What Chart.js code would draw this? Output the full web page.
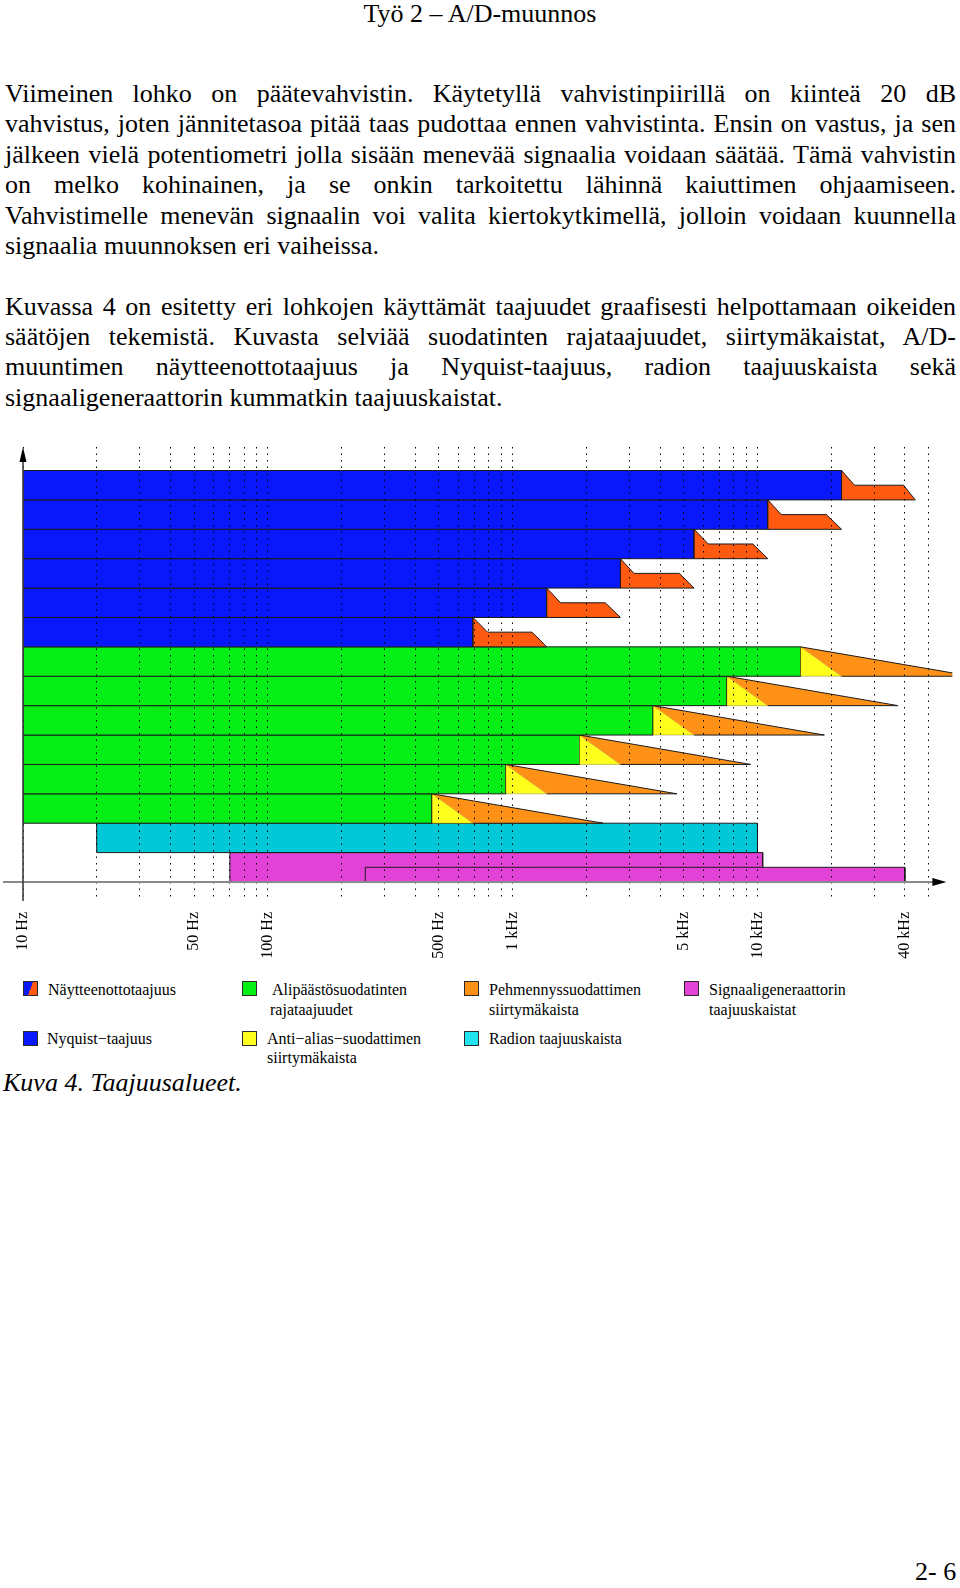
<!DOCTYPE html>
<html>
<head>
<meta charset="utf-8">
<script src="https://cdn.jsdelivr.net/npm/chart.js@4.4.1/dist/chart.umd.min.js"></script>
<style>
html,body{margin:0;padding:0;background:#fff;}
body{width:960px;height:1588px;position:relative;overflow:hidden;font-family:'Liberation Serif','Times New Roman',serif;color:#000;}
.hdr{position:absolute;left:0;width:960px;top:-1px;text-align:center;font-size:26px;line-height:30.4px;}
.para{position:absolute;left:5px;width:951px;font-size:26px;line-height:30.4px;}
.para div{text-align:justify;text-align-last:justify;}
.para div.last{text-align-last:left;}
#chartBox{position:absolute;left:0;top:440px;width:960px;height:525px;}
.ico{position:absolute;width:13px;height:13px;border:1px solid #2a2a2a;}
.lt{position:absolute;font-size:16px;line-height:20px;white-space:nowrap;}
.cap{position:absolute;left:3px;top:1068px;font-size:26px;line-height:30.4px;font-style:italic;}
.foot{position:absolute;left:915px;top:1557px;font-size:26px;line-height:30.4px;}
</style>
</head>
<body>
<div class="hdr">Työ 2 – A/D-muunnos</div>

<div class="para" style="top:79px">
<div>Viimeinen lohko on päätevahvistin. Käytetyllä vahvistinpiirillä on kiinteä 20 dB</div>
<div>vahvistus, joten jännitetasoa pitää taas pudottaa ennen vahvistinta. Ensin on vastus, ja sen</div>
<div>jälkeen vielä potentiometri jolla sisään menevää signaalia voidaan säätää. Tämä vahvistin</div>
<div>on melko kohinainen, ja se onkin tarkoitettu lähinnä kaiuttimen ohjaamiseen.</div>
<div>Vahvistimelle menevän signaalin voi valita kiertokytkimellä, jolloin voidaan kuunnella</div>
<div class="last">signaalia muunnoksen eri vaiheissa.</div>
</div>

<div class="para" style="top:291.6px">
<div>Kuvassa 4 on esitetty eri lohkojen käyttämät taajuudet graafisesti helpottamaan oikeiden</div>
<div>säätöjen tekemistä. Kuvasta selviää suodatinten rajataajuudet, siirtymäkaistat, A/D-</div>
<div>muuntimen näytteenottotaajuus ja Nyquist-taajuus, radion taajuuskaista sekä</div>
<div class="last">signaaligeneraattorin kummatkin taajuuskaistat.</div>
</div>

<div id="chartBox"><canvas id="c" width="960" height="525"></canvas></div>

<!-- legend -->
<span class="ico" style="left:23px;top:981px;background:linear-gradient(110deg,#0818fa 50%,#ff5a10 50%)"></span>
<div class="lt" style="left:48px;top:980px">Näytteenottotaajuus</div>
<span class="ico" style="left:242px;top:981px;background:#05ee15"></span>
<div class="lt" style="left:272px;top:980px">Alipäästösuodatinten</div>
<div class="lt" style="left:270px;top:1000px">rajataajuudet</div>
<span class="ico" style="left:464px;top:981px;background:#ff9216"></span>
<div class="lt" style="left:489px;top:980px">Pehmennyssuodattimen</div>
<div class="lt" style="left:489px;top:1000px">siirtymäkaista</div>
<span class="ico" style="left:684px;top:981px;background:#e243d6"></span>
<div class="lt" style="left:709px;top:980px">Signaaligeneraattorin</div>
<div class="lt" style="left:709px;top:1000px">taajuuskaistat</div>
<span class="ico" style="left:23px;top:1031px;background:#0818fa"></span>
<div class="lt" style="left:47px;top:1029px">Nyquist−taajuus</div>
<span class="ico" style="left:242px;top:1031px;background:#ffff1e"></span>
<div class="lt" style="left:267px;top:1029px">Anti−alias−suodattimen</div>
<div class="lt" style="left:267px;top:1048px">siirtymäkaista</div>
<span class="ico" style="left:464px;top:1031px;background:#22e4ee"></span>
<div class="lt" style="left:489px;top:1029px">Radion taajuuskaista</div>

<div class="cap">Kuva 4. Taajuusalueet.</div>
<div class="foot">2- 6</div>

<script>
// ---------------- data (frequencies in Hz) ----------------
const X_MIN = 10;
const X_MAX = 62500;

// dotted grid lines
const GRID_FREQS = [10, 20, 30, 40, 50, 60, 70, 80, 90,
  100, 200, 300, 400, 500, 600, 700, 800, 900,
  1000, 2000, 3000, 4000, 5000, 6000, 7000, 8000, 9000,
  10000, 20000, 30000, 40000, 50000];

// labelled ticks
const TICK_VALUES = [10, 50, 100, 500, 1000, 5000, 10000, 40000];
const TICK_TEXT = ['10 Hz', '50 Hz', '100 Hz', '500 Hz', '1 kHz', '5 kHz', '10 kHz', '40 kHz'];

// sampling rows (top to bottom)
const NYQUIST = [22050, 11025, 5512.5, 2756.25, 1378.125, 689.06];
const SAMPLE_RATE = [44100, 22050, 11025, 5512.5, 2756.25, 1378.125];
const SAMPLE_SHOULDER_LOW = [24900, 12500, 6290, 3130, 1570, 790];
const SAMPLE_SHOULDER_HIGH = [39500, 19100, 9570, 4800, 2390, 1200];

// low-pass filter rows (top to bottom)
const CUTOFF = [15000, 7500, 3750, 1875, 937.5, 468.75];
const ANTIALIAS_END = [22050, 11025, 5512.5, 2756.25, 1378.125, 689.06];
const SMOOTHING_END = [75000, 37500, 18750, 9375, 4690, 2340];

// radio band and signal generator bands
const RADIO_BAND = [20, 10000];
const SIGGEN_BANDS = [[70, 10500], [250, 40000]];

// ---------------- styles ----------------
const C_BLUE = '#0818fa', C_RED = '#ff5a10', C_GREEN = '#05ee15', C_YELLOW = '#ffff1e',
      C_ORANGE = '#ff9216', C_CYAN = '#00c8d6', C_MAGENTA = '#e243d6', EDGE = '#1c1c1c';
const FONT = "'Liberation Serif', 'Times New Roman', serif";

function poly(points, color, extra) {
  return Object.assign({
    data: points.map(p => ({x: p[0], y: p[1]})),
    backgroundColor: color,
    borderColor: EDGE,
    borderWidth: 1,
    fill: 'shape',
    pointRadius: 0,
    pointHoverRadius: 0,
    tension: 0
  }, extra || {});
}
function rect(x0, x1, y0, y1, color) {
  return poly([[x0, y0], [x0, y1], [x1, y1], [x1, y0], [x0, y0]], color);
}

// paint order: first = bottom-most
const layers = [];
layers.push(rect(SIGGEN_BANDS[0][0], SIGGEN_BANDS[0][1], 0, 1, C_MAGENTA));
layers.push(rect(SIGGEN_BANDS[1][0], SIGGEN_BANDS[1][1], 0, 0.5, C_MAGENTA));
layers.push(rect(RADIO_BAND[0], RADIO_BAND[1], 1, 2, C_CYAN));
for (let i = CUTOFF.length - 1; i >= 0; i--) {
  const b = 7 - i;
  layers.push(rect(X_MIN, CUTOFF[i], b, b + 1, C_GREEN));
  layers.push(poly([[CUTOFF[i], b + 1], [ANTIALIAS_END[i], b], [CUTOFF[i], b], [CUTOFF[i], b + 1]], C_YELLOW,
    {borderWidth: 0.6, borderColor: 'rgba(60,60,0,0.5)'}));
  layers.push(poly([[ANTIALIAS_END[i], b], [CUTOFF[i], b + 1], [SMOOTHING_END[i], b], [ANTIALIAS_END[i], b]], C_ORANGE,
    {segment: {borderColor: ctx => ctx.p0DataIndex === 0 ? 'rgba(0,0,0,0)' : EDGE}}));
}
for (let i = NYQUIST.length - 1; i >= 0; i--) {
  const b = 13 - i;
  layers.push(rect(X_MIN, NYQUIST[i], b, b + 1, C_BLUE));
  layers.push(poly([[NYQUIST[i], b + 1], [SAMPLE_SHOULDER_LOW[i], b + 0.5], [SAMPLE_SHOULDER_HIGH[i], b + 0.5],
    [SAMPLE_RATE[i], b], [NYQUIST[i], b], [NYQUIST[i], b + 1]], C_RED));
}
layers.forEach((d, i) => { d.order = layers.length - i; });

const axisArrows = {
  id: 'axisArrows',
  afterDraw(chart) {
    const {ctx, chartArea: a} = chart;
    ctx.save();
    ctx.strokeStyle = '#8a8a8a';
    ctx.lineWidth = 2;
    ctx.beginPath();
    ctx.moveTo(a.left - 20, a.bottom);
    ctx.lineTo(a.right - 16, a.bottom);
    ctx.stroke();
    ctx.fillStyle = '#000';
    ctx.beginPath();
    ctx.moveTo(a.right - 6, a.bottom);
    ctx.lineTo(a.right - 20, a.bottom - 4);
    ctx.lineTo(a.right - 20, a.bottom + 4);
    ctx.closePath();
    ctx.fill();
    ctx.strokeStyle = '#3c3c3c';
    ctx.lineWidth = 1.6;
    ctx.beginPath();
    ctx.moveTo(a.left, a.bottom + 19);
    ctx.lineTo(a.left, a.top + 12);
    ctx.stroke();
    ctx.beginPath();
    ctx.moveTo(a.left, a.top);
    ctx.lineTo(a.left - 3.5, a.top + 15);
    ctx.lineTo(a.left + 3.5, a.top + 15);
    ctx.closePath();
    ctx.fill();
    ctx.restore();
  }
};

new Chart(document.getElementById('c'), {
  type: 'line',
  data: {datasets: layers},
  options: {
    responsive: false,
    animation: false,
    events: [],
    layout: {padding: {top: 7, left: 23, right: 7, bottom: 0}},
    plugins: {legend: {display: false}, tooltip: {enabled: false}},
    scales: {
      x: {
        type: 'logarithmic',
        position: 'bottom',
        min: X_MIN,
        max: X_MAX,
        bounds: 'data',
        z: 1,
        afterBuildTicks: s => { s.ticks = GRID_FREQS.map(v => ({value: v})); },
        afterFit: s => { s.height = 83; },
        grid: {
          z: 1,
          color: '#000',
          lineWidth: 1,
          borderDash: [1.5, 5],
          tickBorderDash: [1.5, 5],
          tickColor: '#000',
          tickLength: 18,
          drawTicks: true
        },
        border: {display: false, dash: [1.5, 5]},
        ticks: {
          autoSkip: false,
          minRotation: 90,
          maxRotation: 90,
          padding: 12,
          color: '#000',
          font: {family: FONT, size: 16},
          callback: v => {
            const i = TICK_VALUES.indexOf(v);
            return i >= 0 ? TICK_TEXT[i] : '';
          }
        }
      },
      y: {
        type: 'linear',
        min: 0,
        max: 14.8,
        display: false
      }
    }
  },
  plugins: [axisArrows]
});
</script>
</body>
</html>
